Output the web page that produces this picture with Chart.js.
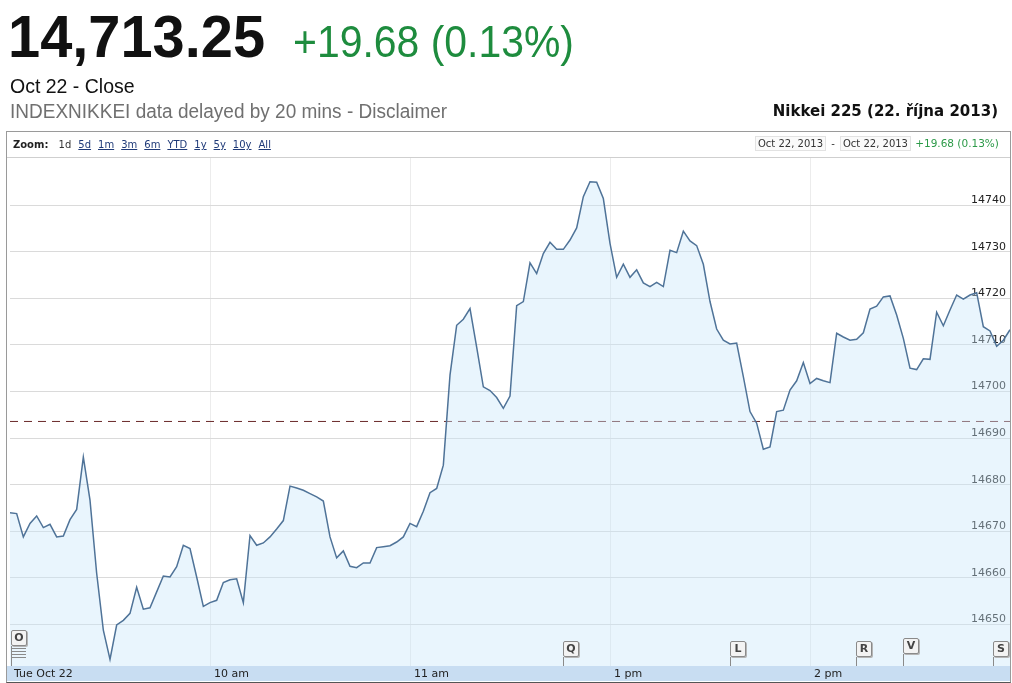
<!DOCTYPE html>
<html>
<head>
<meta charset="utf-8">
<script src="https://cdn.jsdelivr.net/npm/chart.js@4"></script>
<style>
  body { margin: 0; width: 1012px; height: 683px; background: #fff; position: relative; overflow: hidden; font-family: "Liberation Sans", Arial, sans-serif; }
  .abs { position: absolute; white-space: nowrap; line-height: 1; transform-origin: left top; }
  #last { left: 8px; top: 7px; font-size: 60px; font-weight: bold; color: #111; transform: scaleX(0.963); }
  #change { left: 293px; top: 20px; font-size: 44px; color: #1e8c3e; transform: scaleX(0.93); }
  #close { left: 10px; top: 76px; font-size: 20px; color: #111; transform: scaleX(0.975); }
  #disc { left: 10px; top: 101px; font-size: 20px; color: #707070; transform: scaleX(0.95); }
  #title { right: 14px; top: 102px; font: bold 15px "DejaVu Sans", Verdana, sans-serif; color: #111; }
  #frame { position: absolute; left: 6px; top: 131px; width: 1003px; height: 550px; border: 1px solid #9a9a9a; border-bottom-color: #555; }
  #sep { position: absolute; left: 7px; top: 157px; width: 1003px; height: 1px; background: #cfcfcf; }
  #band { position: absolute; left: 7px; top: 666px; width: 1003px; height: 15px; background: #c8ddf2; }
  #chart { position: absolute; left: 0; top: 0; }
  .tb { position: absolute; top: 140px; font: 10px "DejaVu Sans", Verdana, sans-serif; line-height: 1; white-space: nowrap; }
  .tb span { color: #1f3a78; text-decoration: underline; margin-left: 7px; }
  .tb b { color: #222; }
  .tb .cur { color: #333; text-decoration: none; }
  .tb .box { border: 1px solid #e2e2e2; background: #fafafa; padding: 1px 2px; color: #333; margin: 0; text-decoration: none; }
  .tb .plain { margin: 0 2px; text-decoration: none; color: #333; }
  .tb .chg { margin-left: 1px; text-decoration: none; color: #2c9a48; font-size: 10.5px; }
  .flag { position: absolute; width: 14px; height: 14px; border: 1px solid #8a8a8a; border-radius: 2px; background: #f3f3f3;
          box-shadow: 1px 1px 0 #b5b5b5; font: bold 11px "DejaVu Sans", Verdana, sans-serif; color: #444; text-align: center; line-height: 14px; }
  .stem { position: absolute; width: 1px; background: #8a8a8a; }
  .stack { position: absolute; left: 11px; width: 15px; height: 1px; background: #8a8a8a; }
</style>
</head>
<body>
<div id="frame"></div>
<div id="sep"></div>
<div id="band"></div>
<canvas id="chart" width="1012" height="683"></canvas>

<div id="last" class="abs">14,713.25</div>
<div id="change" class="abs">+19.68 (0.13%)</div>
<div id="close" class="abs">Oct 22 - Close</div>
<div id="disc" class="abs">INDEXNIKKEI data delayed by 20 mins - Disclaimer</div>
<div id="title" class="abs">Nikkei 225 (22. října 2013)</div>

<div class="tb" style="left:13px"><b>Zoom:</b> <span class="cur">1d</span><span>5d</span><span>1m</span><span>3m</span><span>6m</span><span>YTD</span><span>1y</span><span>5y</span><span>10y</span><span>All</span></div>
<div class="tb" style="left:755px;top:138px"><span class="box">Oct 22, 2013</span> <span class="plain">-</span> <span class="box">Oct 22, 2013</span> <span class="chg">+19.68 (0.13%)</span></div>

<!-- news flags -->
<div class="flag" style="left:11px;top:630px">O</div>
<div class="stack" style="top:648px"></div>
<div class="stack" style="top:651px"></div>
<div class="stack" style="top:654px"></div>
<div class="stack" style="top:657px"></div>
<div class="stem" style="left:11px;top:646px;height:20px"></div>
<div class="flag" style="left:563px;top:641px">Q</div>
<div class="stem" style="left:563px;top:657px;height:9px"></div>
<div class="flag" style="left:730px;top:641px">L</div>
<div class="stem" style="left:730px;top:657px;height:9px"></div>
<div class="flag" style="left:856px;top:641px">R</div>
<div class="stem" style="left:856px;top:657px;height:9px"></div>
<div class="flag" style="left:903px;top:638px">V</div>
<div class="stem" style="left:903px;top:654px;height:12px"></div>
<div class="flag" style="left:993px;top:641px">S</div>
<div class="stem" style="left:993px;top:657px;height:9px"></div>

<script>
// 2-minute closes, 9:00 - 15:00 (lunch break squeezed out)
const prices = [
  14674.0, 14673.8, 14668.8, 14671.7, 14673.3, 14670.8, 14671.5, 14668.8, 14669.0, 14672.5,
  14674.7, 14685.9, 14676.7, 14661.0, 14648.8, 14642.5, 14649.9, 14650.9, 14652.4, 14658.0,
  14653.3, 14653.6, 14657.0, 14660.4, 14660.2, 14662.4, 14667.0, 14666.3, 14660.2, 14653.9,
  14654.7, 14655.2, 14659.0, 14659.6, 14659.8, 14654.7, 14669.1, 14667.0, 14667.5, 14668.8,
  14670.5, 14672.3, 14679.7, 14679.3, 14678.8, 14678.1, 14677.4, 14676.5, 14668.8, 14664.3,
  14665.8, 14662.5, 14662.2, 14663.2, 14663.2, 14666.5, 14666.7, 14666.9, 14667.7, 14668.8,
  14671.7, 14671.0, 14674.3, 14678.3, 14679.2, 14684.2, 14703.5, 14714.2, 14715.5, 14717.8,
  14709.5, 14701.0, 14700.2, 14698.7, 14696.4, 14699.0, 14718.4, 14719.3, 14727.6, 14725.3,
  14729.6, 14732.0, 14730.5, 14730.5, 14732.5, 14735.1, 14741.8, 14745.0, 14744.9, 14741.4,
  14731.8, 14724.5, 14727.3, 14724.5, 14726.1, 14723.3, 14722.5, 14723.4, 14722.5, 14730.3,
  14729.8, 14734.4, 14732.3, 14731.3, 14727.3, 14719.3, 14713.4, 14711.0, 14710.2, 14710.4,
  14703.2, 14695.7, 14693.2, 14687.6, 14688.1, 14695.7, 14696.0, 14700.3, 14702.3, 14706.2,
  14701.7, 14702.8, 14702.3, 14701.9, 14712.5, 14711.7, 14711.0, 14711.2, 14712.6, 14717.7,
  14718.3, 14720.3, 14720.5, 14716.4, 14711.4, 14705.0, 14704.7, 14707.0, 14706.9, 14717.0,
  14714.1, 14717.5, 14720.7, 14719.8, 14720.7, 14721.2, 14713.9, 14713.0, 14709.7, 14711.0,
  14713.25
];
const prevClose = 14693.57;
const timeTicks = [0, 30, 60, 90, 120];
const timeLabels = ['Tue Oct 22', '10 am', '11 am', '1 pm', '2 pm'];
const yTicks = [14650, 14660, 14670, 14680, 14690, 14700, 14710, 14720, 14730, 14740];

const ctx = document.getElementById('chart').getContext('2d');

const chart = new Chart(ctx, {
  type: 'line',
  data: {
    datasets: [
      {
        data: prices.map((v, i) => ({ x: i, y: v })),
        borderColor: '#4f7398',
        borderWidth: 1.5,
        backgroundColor: 'rgba(200, 230, 250, 0.4)',
        fill: 'start',
        pointRadius: 0,
        tension: 0,
      },
      {
        // previous close
        data: [{ x: 0, y: prevClose }, { x: prices.length - 1, y: prevClose }],
        borderColor: '#6a2a2a',
        borderWidth: 1,
        borderDash: [8, 6],
        pointRadius: 0,
        fill: false,
      },
    ],
  },
  options: {
    responsive: false,
    animation: false,
    layout: { padding: { left: 10, right: 2, top: 158, bottom: 0 } },
    plugins: { legend: { display: false }, tooltip: { enabled: false } },
    scales: {
      x: {
        type: 'linear',
        min: 0,
        max: prices.length - 1,
        afterBuildTicks: (s) => { s.ticks = timeTicks.map(v => ({ value: v })); },
        afterFit: (s) => { s.height = 17; },
        ticks: {
          callback: (v, i) => timeLabels[i],
          align: 'start',
          labelOffset: 4,
          padding: 2,
          maxRotation: 0,
          autoSkip: false,
          color: '#222',
          font: { family: 'DejaVu Sans', size: 11 },
        },
        grid: {
          color: (c) => (c.tick && c.tick.value === 0 ? 'rgba(0,0,0,0)' : '#ececec'),
          drawTicks: false,
        },
        border: { display: false },
      },
      y: {
        position: 'right',
        min: 14641.1,
        max: 14750.1,
        afterBuildTicks: (s) => { s.ticks = yTicks.map(v => ({ value: v })); },
        afterFit: (s) => { s.width = 0; },
        ticks: {
          callback: (v) => String(v),
          mirror: true,
          padding: -4,
          labelOffset: -5,
          color: '#222',
          font: { family: 'DejaVu Sans', size: 11 },
        },
        grid: { color: '#dadada', drawTicks: false },
        border: { display: false },
      },
    },
  },
});
</script>
</body>
</html>
